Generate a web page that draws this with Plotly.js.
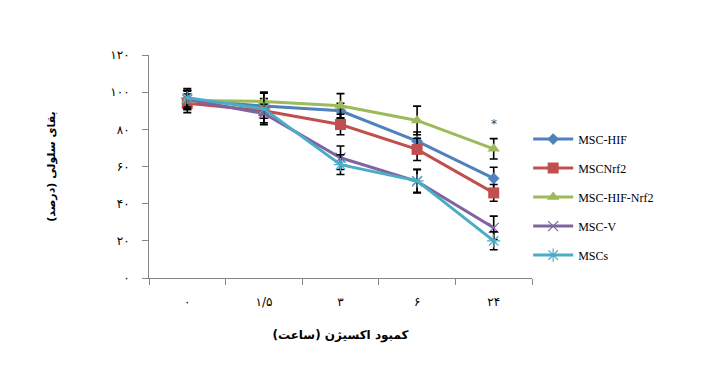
<!DOCTYPE html>
<html><head><meta charset="utf-8">
<script src="https://cdn.plot.ly/plotly-3.0.1.min.js"></script>
<style>body{margin:0;background:#fff}#chart{width:705px;height:390px}</style>
</head><body><div id="chart"></div>
<script>
const categories = ["۰", "۱/۵", "۳", "۶", "۲۴"];
const yTickVals = [0, 20, 40, 60, 80, 100, 120];
const yTickText = ["۰", "۲۰", "۴۰", "۶۰", "۸۰", "۱۰۰", "۱۲۰"];

const seriesNames = ["MSC-HIF", "MSCNrf2", "MSC-HIF-Nrf2", "MSC-V", "MSCs"];
const mscHif = [96, 92.5, 90, 73.6, 53.6];
const mscHifErr = [5, 4, 4, 5, 6];
const mscNrf2 = [94, 90, 82.6, 69.2, 45.8];
const mscNrf2Err = [5, 4, 5.5, 6, 4.5];
const mscHifNrf2 = [95.5, 95, 92.7, 84.8, 69.5];
const mscHifNrf2Err = [5, 5, 6.5, 7.7, 5.5];
const mscV = [96, 88.5, 64.7, 52, 27];
const mscVErr = [5, 5, 6.3, 6.3, 6.3];
const mscs = [97, 91, 61, 52.3, 20];
const mscsErr = [5, 8.5, 5.3, 6.2, 4.8];
const starLabel = "*";
const starValue = 83;

const colors = ["#4F81BD", "#C0504D", "#9BBB59", "#8064A2", "#4BACC6"];
const symbols = ["diamond", "square", "triangle-up", "x-thin-open", "asterisk-open"];
const sizes = [9, 11, 11, 10, 11];
const values = [mscHif, mscNrf2, mscHifNrf2, mscV, mscs];
const errs = [mscHifErr, mscNrf2Err, mscHifNrf2Err, mscVErr, mscsErr];

const traces = seriesNames.map((n, i) => ({
  type: "scatter", mode: "lines+markers", name: n,
  x: categories, y: values[i], legendgroup: "g" + i,
  line: {color: colors[i], width: 3},
  marker: {symbol: symbols[i], size: sizes[i], color: colors[i],
           line: {color: i >= 3 ? "#a9c9dc" : colors[i], width: i >= 3 ? 1.2 : 0}},
  error_y: {type: "data", array: errs[i], visible: true, color: "#000", thickness: 1.6, width: 4}
}));

const layout = {
  width: 705, height: 390,
  margin: {l: 149, r: 173, t: 55, b: 112},
  paper_bgcolor: "#fff", plot_bgcolor: "#fff",
  font: {family: "DejaVu Sans, Liberation Serif, serif", color: "#000"},
  showlegend: true,
  legend: {x: 0.99, xanchor: "left", y: 0.363, yanchor: "middle", tracegroupgap: 10, itemwidth: 40,
           font: {family: "Liberation Serif, serif", size: 12, color: "#000"}, bgcolor: "rgba(0,0,0,0)"},
  xaxis: {
    type: "category", range: [-0.5, 4.5], autorange: false, showgrid: false, zeroline: false,
    showline: true, linecolor: "#868686", linewidth: 1,
    ticks: "outside", tickson: "boundaries", ticklen: 6, tickcolor: "#868686",
    ticklabelstandoff: 13,
    tickfont: {size: 12, family: "DejaVu Sans"},
    title: {text: "کمبود اکسیژن (ساعت)", font: {size: 12, family: "DejaVu Sans", weight: "bold"}, standoff: 22}
  },
  yaxis: {
    range: [0, 120], showgrid: false, zeroline: false,
    showline: true, linecolor: "#868686", linewidth: 1,
    ticks: "outside", ticklen: 6, tickcolor: "#868686",
    ticklabelstandoff: 10,
    tickvals: yTickVals, ticktext: yTickText,
    tickfont: {size: 12, family: "DejaVu Sans"},
    title: {text: "بقای سلولی (درصد)", font: {size: 11, family: "DejaVu Sans", weight: "bold"}, standoff: 52}
  },
  annotations: [{x: categories[4], y: starValue, text: starLabel, showarrow: false,
    font: {size: 12, color: "#444"}}]
};
Plotly.newPlot("chart", traces, layout, {displayModeBar: false});
</script></body></html>
